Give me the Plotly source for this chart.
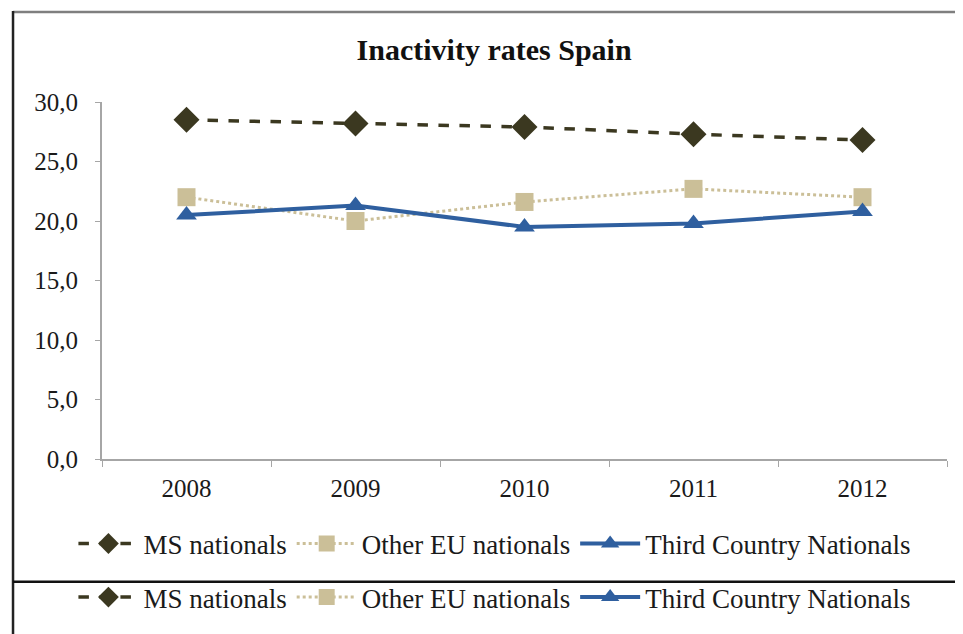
import plotly.graph_objects as go

years = ["2008", "2009", "2010", "2011", "2012"]
ms_nationals = [28.5, 28.2, 27.9, 27.3, 26.8]
other_eu = [22.0, 20.0, 21.6, 22.7, 22.0]
third_country = [20.5, 21.3, 19.5, 19.8, 20.8]
y_ticks = [0, 5, 10, 15, 20, 25, 30]

FONT = "Liberation Serif, Times New Roman, serif"
C_MS = "#3b3820"
C_EU = "#cbbf98"
C_TC = "#2f5f9f"

fig = go.Figure()

series = [
    ("MS nationals", ms_nationals, dict(color=C_MS, width=3.5, dash="dash"),
     dict(symbol="diamond", size=20, color=C_MS)),
    ("Other EU nationals", other_eu, dict(color=C_EU, width=3, dash="dot"),
     dict(symbol="square", size=18, color=C_EU)),
    ("Third Country Nationals", third_country, dict(color=C_TC, width=4),
     dict(symbol="triangle-up", size=18, color=C_TC)),
]

for name, vals, line, marker in series:
    fig.add_trace(go.Scatter(x=years, y=vals, name=name, mode="lines+markers",
                             line=line, marker=marker, legend="legend"))
# duplicated legend row (as in the reference image)
for name, vals, line, marker in series:
    fig.add_trace(go.Scatter(x=[None], y=[None], name=name, mode="lines+markers",
                             line=line, marker=marker, legend="legend2",
                             hoverinfo="skip"))

legend_common = dict(orientation="h", xanchor="center", yanchor="middle",
                     font=dict(family=FONT, size=27, color="#1a1a1a"),
                     bgcolor="rgba(0,0,0,0)", itemwidth=60,
                     tracegroupgap=0)

fig.update_layout(
    width=955, height=626,
    margin=dict(l=94, r=16, t=94, b=171),
    paper_bgcolor="white", plot_bgcolor="white",
    separators=",.",
    title=dict(text="<b>Inactivity rates Spain</b>", x=0.509, xanchor="center",
               y=0.933, yanchor="middle",
               font=dict(family=FONT, size=30, color="#111")),
    xaxis=dict(type="category", range=[-0.5, 4.5], showline=True,
               linecolor="#a6a6a6", linewidth=2, ticks="outside",
               tickson="boundaries", ticklen=6, tickcolor="#a6a6a6",
               showgrid=False, zeroline=False, ticklabelstandoff=6,
               tickfont=dict(family=FONT, size=25, color="#1a1a1a")),
    yaxis=dict(range=[0, 30], tickvals=y_ticks, tickformat=".1f",
               showline=True, linecolor="#a6a6a6", linewidth=2,
               ticks="outside", ticklen=5, tickcolor="#a6a6a6",
               showgrid=False, zeroline=False, ticklabelstandoff=12,
               tickfont=dict(family=FONT, size=25, color="#1a1a1a")),
    legend=dict(x=0.465, y=-0.238, **legend_common),
    legend2=dict(x=0.465, y=-0.388, **legend_common),
    shapes=[
        dict(type="line", xref="paper", yref="paper", x0=-0.1053, x1=1.1,
             y0=1.252, y1=1.252, line=dict(color="#7f7f7f", width=2.5)),
        dict(type="line", xref="paper", yref="paper", x0=-0.1053, x1=-0.1053,
             y0=1.255, y1=-0.55, line=dict(color="#222", width=2.5)),
        dict(type="line", xref="paper", yref="paper", x0=-0.1053, x1=1.1,
             y0=-0.3435, y1=-0.3435, line=dict(color="#111", width=2.5)),
    ],
)

fig.write_html("out.html")
